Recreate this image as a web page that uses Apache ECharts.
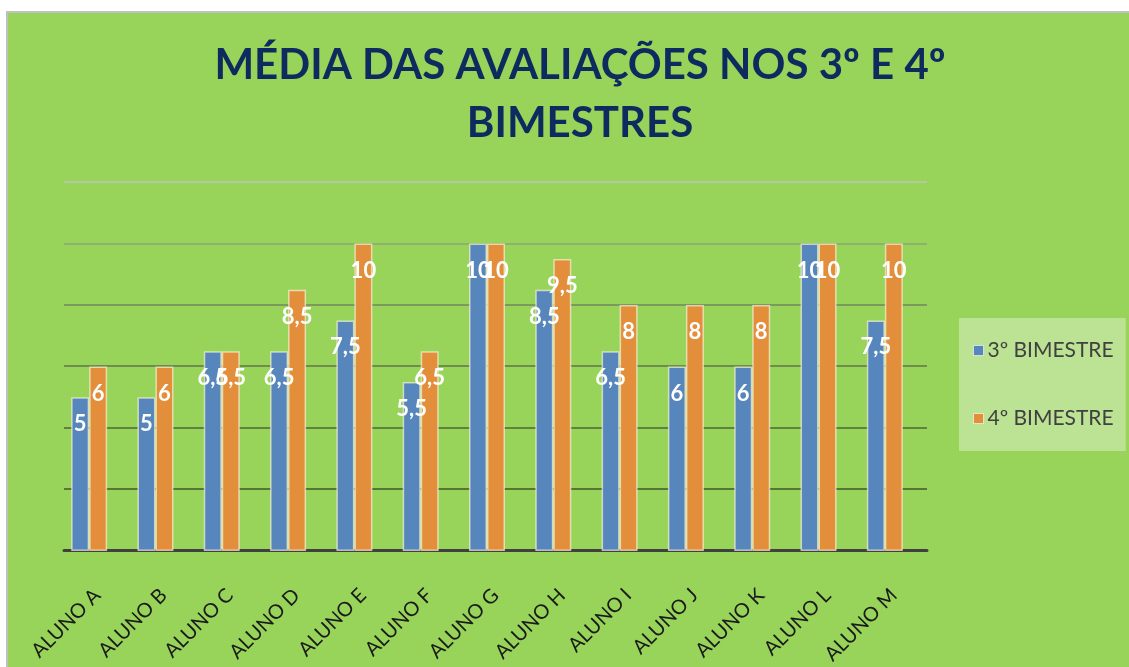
<!DOCTYPE html>
<html>
<head>
<meta charset="utf-8">
<script src="https://cdn.jsdelivr.net/npm/echarts@6/dist/echarts.min.js"></script>
<style>
  html, body { margin: 0; padding: 0; background: #fff; }
  #chart { width: 1129px; height: 667px; }
</style>
</head>
<body>
<div id="chart"></div>
<script>
// dados
const alunos = ['ALUNO A', 'ALUNO B', 'ALUNO C', 'ALUNO D', 'ALUNO E', 'ALUNO F', 'ALUNO G',
  'ALUNO H', 'ALUNO I', 'ALUNO J', 'ALUNO K', 'ALUNO L', 'ALUNO M']
const bim3 = [5, 5, 6.5, 6.5, 7.5, 5.5, 10, 8.5, 6.5, 6, 6, 10, 7.5]
const bim4 = [6, 6, 6.5, 8.5, 10, 6.5, 10, 9.5, 8, 8, 8, 10, 10]
const nomesSeries = ['3º BIMESTRE', '4º BIMESTRE']

const FONT = 'Lato, "Open Sans", sans-serif'
const chart = echarts.init(document.getElementById('chart'))

// cores das linhas de grade (0, 2, 4 ... 12)
const gridColors = ['#404040', '#587535', '#62803f', '#6e8c4d', '#7c9a5c', '#8fb070', '#b5c8a2']

const labelStyle = {
  show: true,
  position: 'insideTop',
  distance: 16,
  color: '#fff',
  fontFamily: FONT,
  fontWeight: 'bold',
  fontSize: 22,
  formatter: p => String(p.value).replace('.', ',')
}

chart.setOption({
  backgroundColor: '#fff',
  animation: false,
  graphic: [{
    type: 'rect',
    left: 6, top: 11,
    shape: { width: 1130, height: 660 },
    style: { fill: '#98d45a', stroke: '#c0c0c0', lineWidth: 2 },
    z: -10
  }],
  title: {
    text: 'MÉDIA DAS AVALIAÇÕES NOS 3º E 4º\nBIMESTRES',
    left: 575,
    top: 31,
    textAlign: 'center',
    textStyle: {
      color: '#0f2a5e',
      fontFamily: FONT,
      fontWeight: 'bold',
      fontSize: 42,
      lineHeight: 58
    }
  },
  legend: {
    orient: 'vertical',
    left: 959,
    top: 318,
    data: nomesSeries,
    icon: 'rect',
    itemWidth: 10,
    itemHeight: 10,
    itemGap: 47,
    itemStyle: { borderColor: 'rgba(255,255,255,0.6)', borderWidth: 1 },
    padding: [22, 12, 22, 14],
    backgroundColor: 'rgba(255,255,255,0.35)',
    textStyle: { color: '#404040', fontFamily: FONT, fontSize: 21, padding: [0, 0, 0, -1] }
  },
  grid: [
    // grade das linhas
    { left: 64, right: 202, top: 182, bottom: 116 },
    // grade das barras
    { left: 56, right: 211, top: 182, bottom: 116 }
  ],
  xAxis: [
    {
      gridIndex: 0,
      type: 'category',
      data: alunos,
      axisLine: { lineStyle: { color: '#404040', width: 3 } },
      axisTick: { show: false },
      axisLabel: {
        rotate: 45,
        margin: 42,
        color: '#1a1a1a',
        fontFamily: FONT,
        fontSize: 20,
        interval: 0
      }
    },
    {
      gridIndex: 1,
      type: 'category',
      data: alunos,
      axisLine: { show: false },
      axisTick: { show: false },
      axisLabel: { show: false }
    }
  ],
  yAxis: [
    {
      gridIndex: 0,
      type: 'value',
      min: 0, max: 12, interval: 2,
      axisLine: { show: false },
      axisTick: { show: false },
      axisLabel: { show: false },
      splitLine: { lineStyle: { color: gridColors, width: 2 } }
    },
    {
      gridIndex: 1,
      type: 'value',
      min: 0, max: 12, interval: 2,
      axisLine: { show: false },
      axisTick: { show: false },
      axisLabel: { show: false },
      splitLine: { show: false }
    }
  ],
  series: [
    {
      name: nomesSeries[0],
      type: 'bar',
      xAxisIndex: 1,
      yAxisIndex: 1,
      data: bim3,
      barWidth: 18,
      barGap: '0%',
      itemStyle: { color: '#5686bc', borderColor: 'rgba(255,245,225,0.65)', borderWidth: 1.5 },
      label: labelStyle
    },
    {
      name: nomesSeries[1],
      type: 'bar',
      xAxisIndex: 1,
      yAxisIndex: 1,
      data: bim4,
      barWidth: 18,
      itemStyle: { color: '#e38e3b', borderColor: 'rgba(255,245,225,0.65)', borderWidth: 1.5 },
      label: labelStyle
    }
  ]
})
</script>
</body>
</html>
